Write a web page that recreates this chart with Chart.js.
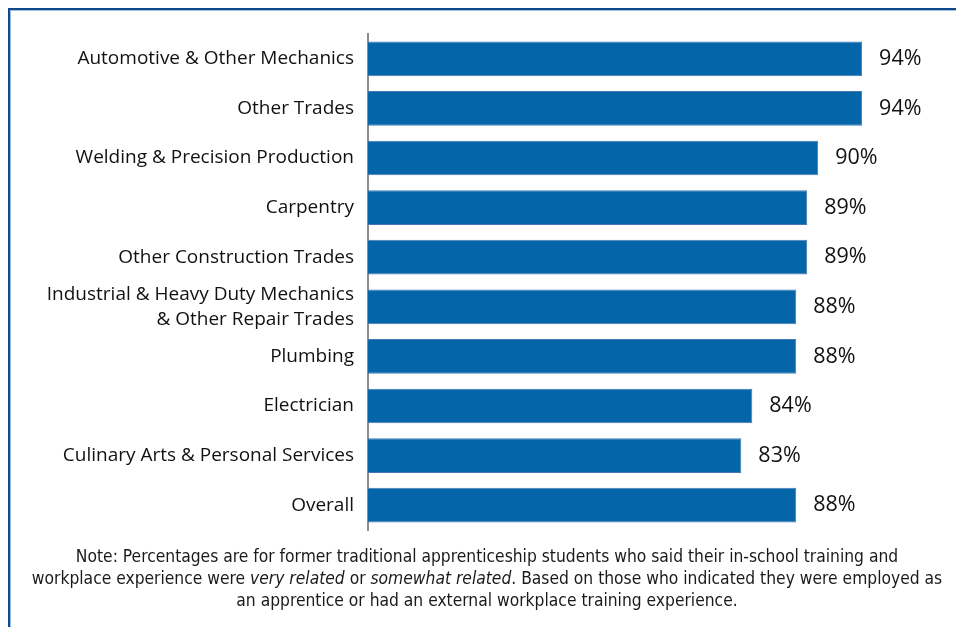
<!DOCTYPE html>
<html>
<head>
<meta charset="utf-8">
<script src="https://cdn.jsdelivr.net/npm/chart.js@4.4.1/dist/chart.umd.min.js"></script>
<style>
  html, body { margin: 0; padding: 0; background: #fff; }
  #wrap { position: relative; width: 956px; height: 627px; overflow: hidden; }
  #frame {
    position: absolute; left: 8px; top: 8px; width: 960px; height: 640px;
    border-left: 2px solid #0d4a8c; border-top: 2px solid #0d4a8c;
    box-shadow: inset 1px 1px 0 #9fc0e0;
  }
  #chart { position: absolute; left: 0; top: 0; }
  #note {
    position: absolute; left: 9px; width: 956px; top: 545px;
    text-align: center; font-family: "Liberation Sans Narrow", "DejaVu Sans Condensed", sans-serif;
    font-size: 17.3px; line-height: 22px; color: #1a1a1a;
  }
</style>
</head>
<body>
<div id="wrap">
  <div id="frame"></div>
  <canvas id="chart" width="956" height="627"></canvas>
  <div id="note">Note: Percentages are for former traditional apprenticeship students who said their in-school training and<br>workplace experience were <i>very related</i> or <i>somewhat related</i>. Based on those who indicated they were employed as<br>an apprentice or had an external workplace training experience.</div>
</div>
<script>
const trades = [
    'Automotive & Other Mechanics',
    'Other Trades',
    'Welding & Precision Production',
    'Carpentry',
    'Other Construction Trades',
    ['Industrial & Heavy Duty Mechanics', '& Other Repair Trades'],
    'Plumbing',
    'Electrician',
    'Culinary Arts & Personal Services',
    'Overall'
];
const relatedPct = [94, 94, 90, 89, 89, 88, 88, 84, 83, 88];

// percent labels to the right of each bar
const valueLabels = {
    id: 'valueLabels',
    afterDatasetsDraw(chart) {
        const ctx = chart.ctx;
        const meta = chart.getDatasetMeta(0);
        ctx.save();
        ctx.font = '21.5px "Open Sans", sans-serif';
        ctx.fillStyle = '#111';
        ctx.textAlign = 'left';
        ctx.textBaseline = 'middle';
        meta.data.forEach((bar, i) => {
            ctx.fillText(relatedPct[i] + '%', bar.x + 17, bar.y);
        });
        ctx.restore();
    }
};

const ctx = document.getElementById('chart').getContext('2d');
new Chart(ctx, {
    type: 'bar',
    data: {
        labels: trades,
        datasets: [{
            data: relatedPct,
            backgroundColor: '#0465a8',
            borderColor: '#4479b6',
            borderWidth: 1,
            barPercentage: 0.7,
            categoryPercentage: 1
        }]
    },
    options: {
        indexAxis: 'y',
        responsive: false,
        animation: false,
        layout: { padding: { top: 34, bottom: 97, right: 28, left: 0 } },
        plugins: { legend: { display: false }, tooltip: { enabled: false } },
        scales: {
            x: { display: false, min: 49, max: 100 },
            y: {
                afterFit: scale => { scale.width = 368; },
                grid: { display: false, drawTicks: false },
                border: { display: true, color: '#8c8c8c', width: 2 },
                ticks: {
                    autoSkip: false,
                    padding: 14,
                    color: '#111',
                    font: { family: '"Open Sans", sans-serif', size: 19, lineHeight: 1.3 }
                }
            }
        }
    },
    plugins: [valueLabels]
});
</script>
</body>
</html>
